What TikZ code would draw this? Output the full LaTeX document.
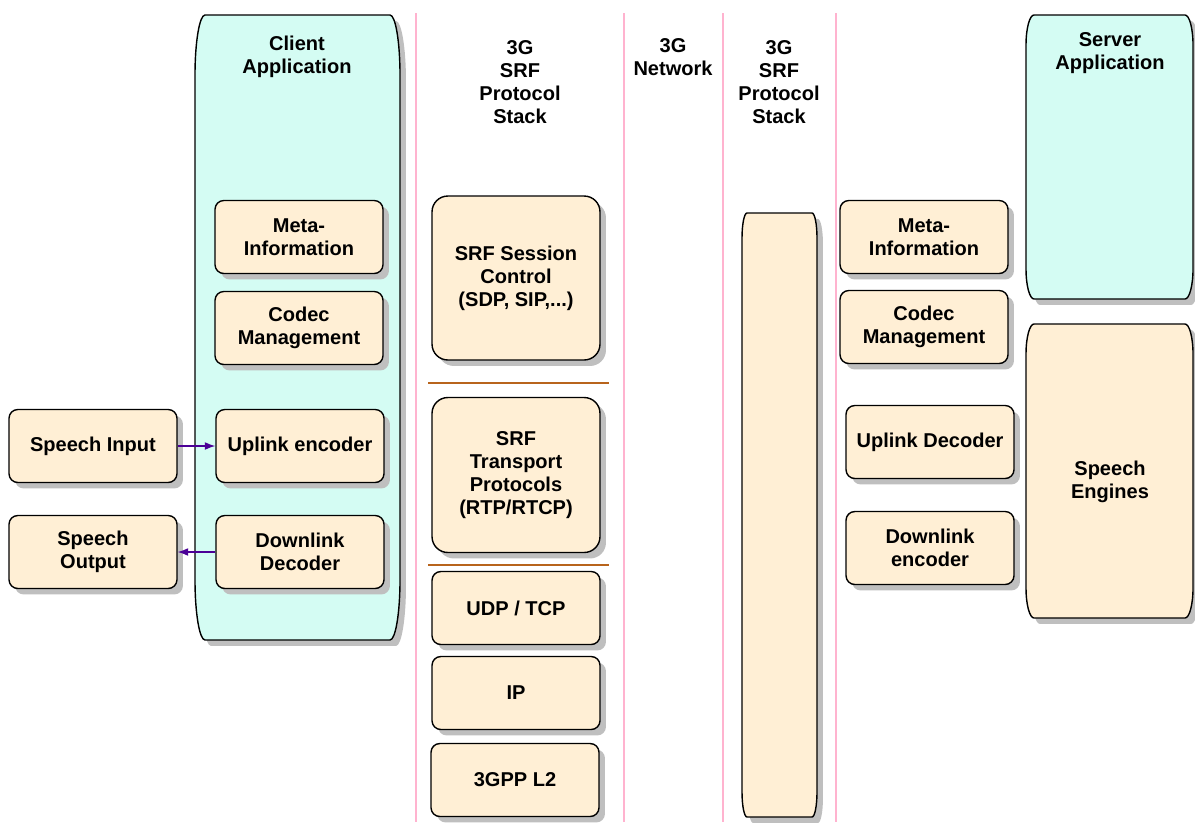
\documentclass[tikz,border=0pt]{standalone}
\usepackage{fontspec}
\setmainfont{Liberation Sans}
\usetikzlibrary{shadows,arrows.meta}
\definecolor{boxfill}{HTML}{FFEFD5}
\definecolor{appfill}{HTML}{D4FCF3}
\definecolor{laneline}{HTML}{FFB3CF}
\definecolor{splitline}{HTML}{B8641C}
\definecolor{msgline}{HTML}{4B0096}
\newcommand{\lbl}{\fontsize{11.4}{13.1}\selectfont\bfseries}
\tikzset{
  shade/.style={drop shadow={shadow xshift=3.4pt,shadow yshift=-3.4pt,fill=black!25,opacity=1}},
  unit/.style={draw=black,fill=boxfill,line width=0.8pt,rounded corners=5pt,shade,
    align=center,font=\lbl,inner sep=0pt,minimum width=3.36cm,minimum height=1.46cm},
  title/.style={align=center,font=\lbl},
  lane/.style={draw=laneline,line width=0.6pt},
  split/.style={draw=splitline,line width=1.3pt},
  msg/.style={draw=msgline,line width=0.7pt,-{Latex[length=6pt,width=4.5pt]}},
}
% soft box: x1,y1,x2,y2,rx,ry,fill
\newcommand{\softbox}[7]{%
  \draw[line width=0.8pt,fill=#7,shade] ({#1+#5},#2) -- ({#3-#5},#2)
    .. controls ({#3-0.45*#5},#2) and (#3,{#2+0.45*#6}) .. (#3,{#2+#6}) -- (#3,{#4-#6})
    .. controls (#3,{#4-0.45*#6}) and ({#3-0.45*#5},#4) .. ({#3-#5},#4) -- ({#1+#5},#4)
    .. controls ({#1+0.45*#5},#4) and (#1,{#4-0.45*#6}) .. (#1,{#4-#6}) -- (#1,{#2+#6})
    .. controls (#1,{#2+0.45*#6}) and ({#1+0.45*#5},#2) .. cycle;}
\begin{document}
\begin{tikzpicture}[x=0.02cm,y=-0.02cm]
\useasboundingbox (0,0) rectangle (1195,822);
% lanes
\draw[lane] (416,13) -- (416,822);
\draw[lane] (624,13) -- (624,822);
\draw[lane] (723,13) -- (723,822);
\draw[lane] (836,13) -- (836,822);
% big shapes
\softbox{195}{15}{400}{640}{10}{60}{appfill}
\softbox{742}{213}{817}{817}{5}{25}{boxfill}
\softbox{1026}{15}{1193}{299}{8}{30}{appfill}
\softbox{1026}{324}{1193}{618}{8}{30}{boxfill}
% titles
\node[title] (client) at (297,57) {Client\\Application};
\node[title] (stackA) at (520,82) {3G\\SRF\\Protocol\\Stack};
\node[title] (net) at (673,57) {3G\\Network};
\node[title] (stackB) at (779,82) {3G\\SRF\\Protocol\\Stack};
\node[title] (server) at (1110,53) {Server\\Application};
\node[title] (engines) at (1110,482) {Speech\\Engines};
% client side
\node[unit] (spin) at (93,446) {Speech Input};
\node[unit] (spout) at (93,552) {Speech\\Output};
\node[unit] (cmeta) at (299,237) {Meta-\\Information};
\node[unit] (ccodec) at (299,328) {Codec\\Management};
\node[unit] (upenc) at (300,446) {Uplink encoder};
\node[unit] (dndec) at (300,552) {Downlink\\Decoder};
\draw[msg] (spin) -- (upenc);
\draw[msg] (dndec) -- (spout);
% protocol stack
\node[unit,rounded corners=9pt,minimum height=3.28cm] (session) at (516,278) {SRF Session\\Control\\(SDP, SIP,...)};
\node[unit,rounded corners=9pt,minimum height=3.1cm] (transport) at (516,475) {SRF\\Transport\\Protocols\\(RTP/RTCP)};
\node[unit] (udp) at (516,608) {UDP / TCP};
\node[unit] (ip) at (516,693) {IP};
\node[unit] (l2) at (515,780) {3GPP L2};
\draw[split] (428,383) -- (609,383);
\draw[split] (428,565) -- (609,565);
% server side
\node[unit] (smeta) at (924,237) {Meta-\\Information};
\node[unit] (scodec) at (924,327) {Codec\\Management};
\node[unit] (updec) at (930,442) {Uplink Decoder};
\node[unit] (dnenc) at (930,548) {Downlink\\encoder};
\end{tikzpicture}
\end{document}
